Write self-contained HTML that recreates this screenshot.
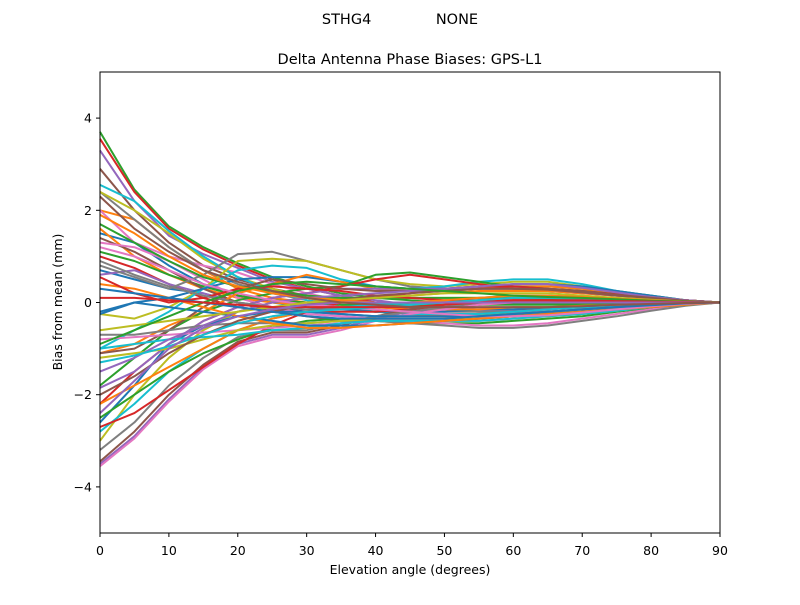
<!DOCTYPE html>
<html><head><meta charset="utf-8"><style>
body{margin:0;background:#fff;}
svg text{font-family:"DejaVu Sans","Liberation Sans",sans-serif;white-space:pre;}
</style></head><body>
<svg id="chart" width="800" height="600" xmlns="http://www.w3.org/2000/svg">
<rect width="800" height="600" fill="#fff"/>
<text x="400" y="24" text-anchor="middle" font-size="14.5" xml:space="preserve">STHG4              NONE</text>
<text x="410" y="64" text-anchor="middle" font-size="14.5">Delta Antenna Phase Biases: GPS-L1</text>
<g id="lines"></g>
<rect x="100" y="72" width="620" height="461" fill="none" stroke="#000" stroke-width="1"/>
<g id="axes"></g>
<text x="410" y="574" text-anchor="middle" font-size="12.5">Elevation angle (degrees)</text>
<text transform="translate(62,302) rotate(-90)" text-anchor="middle" font-size="12.5">Bias from mean (mm)</text>
</svg>
<script>
const elevations=[0,5,10,15,20,25,30,35,40,45,50,55,60,65,70,75,80,85,90];
const xTicks=[0,10,20,30,40,50,60,70,80,90];
const yTicks=[-4,-2,0,2,4];
const colors=['#1f77b4','#ff7f0e','#2ca02c','#d62728','#9467bd','#8c564b','#e377c2','#7f7f7f','#bcbd22','#17becf'];
const s00=[0.7,0.5,0.3,0.2,0.0,-0.1,-0.2,-0.25,-0.3,-0.3,-0.3,-0.3,-0.25,-0.2,-0.15,-0.1,-0.06,-0.03,0];
const s01=[2.0,1.8,1.2,0.7,0.3,0.1,0.0,-0.1,-0.2,-0.25,-0.3,-0.3,-0.3,-0.25,-0.2,-0.15,-0.1,-0.05,0];
const s02=[3.7,2.45,1.65,1.2,0.85,0.55,0.35,0.2,0.1,0.05,0.0,-0.05,-0.05,-0.05,-0.05,-0.03,-0.02,-0.01,0];
const s03=[3.55,2.4,1.6,1.15,0.8,0.5,0.3,0.15,0.0,-0.1,-0.15,-0.2,-0.2,-0.2,-0.15,-0.1,-0.06,-0.03,0];
const s04=[3.3,2.2,1.45,1.05,0.75,0.45,0.3,0.15,0.05,-0.05,-0.1,-0.15,-0.15,-0.15,-0.1,-0.08,-0.05,-0.02,0];
const s05=[2.9,2.0,1.3,0.8,0.5,0.3,0.15,0.05,-0.05,-0.1,-0.15,-0.15,-0.15,-0.12,-0.1,-0.07,-0.05,-0.02,0];
const s06=[2.0,1.3,1.0,0.8,0.65,0.4,0.2,0.05,-0.05,-0.1,-0.15,-0.2,-0.2,-0.2,-0.15,-0.1,-0.06,-0.03,0];
const s07=[2.4,1.8,1.2,0.7,0.4,0.2,0.05,-0.05,-0.1,-0.15,-0.2,-0.2,-0.2,-0.15,-0.1,-0.08,-0.05,-0.02,0];
const s08=[2.4,2.0,1.5,0.95,0.55,0.3,0.1,-0.05,-0.15,-0.2,-0.25,-0.25,-0.25,-0.2,-0.15,-0.1,-0.06,-0.03,0];
const s09=[2.55,2.2,1.55,1.0,0.55,0.25,0.05,-0.1,-0.2,-0.25,-0.25,-0.25,-0.2,-0.15,-0.1,-0.07,-0.04,-0.02,0];
const s10=[1.5,1.3,0.8,0.4,0.15,0.0,-0.1,-0.15,-0.2,-0.2,-0.2,-0.15,-0.15,-0.1,-0.08,-0.05,-0.03,-0.01,0];
const s11=[1.6,1.0,0.6,0.3,0.1,0.0,-0.05,-0.1,-0.1,-0.15,-0.15,-0.15,-0.1,-0.1,-0.07,-0.05,-0.03,-0.01,0];
const s12=[1.1,0.9,0.6,0.35,0.15,0.05,0.0,-0.05,-0.05,-0.05,-0.05,-0.05,-0.03,-0.02,-0.02,-0.01,0,0,0];
const s13=[1.0,0.75,0.4,0.1,-0.1,-0.2,-0.2,-0.2,-0.2,-0.15,-0.1,-0.05,0.0,0.0,0.0,0.0,0.0,0.0,0];
const s14=[0.6,0.7,0.4,0.2,0.0,-0.15,-0.25,-0.3,-0.35,-0.35,-0.35,-0.3,-0.3,-0.25,-0.2,-0.15,-0.1,-0.05,0];
const s15=[1.4,1.1,0.7,0.3,0.0,-0.2,-0.3,-0.4,-0.4,-0.4,-0.4,-0.35,-0.3,-0.25,-0.2,-0.15,-0.1,-0.05,0];
const s16=[1.3,1.2,0.9,0.5,0.1,-0.1,-0.25,-0.3,-0.35,-0.4,-0.4,-0.4,-0.35,-0.3,-0.25,-0.17,-0.1,-0.05,0];
const s17=[0.8,0.55,0.3,0.6,1.05,1.1,0.9,0.7,0.5,0.35,0.3,0.3,0.35,0.35,0.3,0.2,0.1,0.05,0];
const s18=[-0.25,-0.35,-0.1,0.3,0.9,0.95,0.9,0.7,0.5,0.4,0.35,0.4,0.45,0.45,0.35,0.25,0.15,0.05,0];
const s19=[-1.0,-0.6,-0.2,0.3,0.7,0.8,0.75,0.5,0.35,0.3,0.35,0.45,0.5,0.5,0.4,0.25,0.15,0.05,0];
const s20=[-0.25,0.0,0.1,0.3,0.5,0.55,0.55,0.45,0.35,0.3,0.3,0.35,0.4,0.4,0.35,0.25,0.15,0.05,0];
const s21=[-1.1,-0.9,-0.5,-0.2,0.2,0.4,0.6,0.45,0.3,0.25,0.25,0.3,0.35,0.35,0.3,0.2,0.12,0.05,0];
const s22=[-1.8,-1.2,-0.6,-0.2,0.05,0.2,0.3,0.35,0.6,0.65,0.55,0.45,0.35,0.3,0.25,0.18,0.1,0.05,0];
const s23=[-2.2,-1.5,-0.9,-0.4,-0.1,0.1,0.2,0.35,0.5,0.6,0.5,0.4,0.3,0.25,0.2,0.15,0.1,0.05,0];
const s24=[-3.5,-2.9,-2.1,-1.4,-0.9,-0.7,-0.7,-0.55,-0.35,-0.2,-0.1,0.0,0.05,0.05,0.05,0.03,0.02,0.01,0];
const s25=[-3.45,-2.8,-2.0,-1.35,-0.85,-0.65,-0.65,-0.5,-0.3,-0.15,-0.05,0.05,0.1,0.1,0.08,0.05,0.03,0.01,0];
const s26=[-3.55,-2.95,-2.15,-1.45,-0.95,-0.75,-0.75,-0.6,-0.4,-0.25,-0.15,-0.05,0.0,0.0,0.0,0.0,0.0,0.0,0];
const s27=[-3.2,-2.6,-1.8,-1.2,-0.75,-0.6,-0.6,-0.45,-0.3,-0.2,-0.1,0.0,0.05,0.05,0.05,0.03,0.02,0.01,0];
const s28=[-3.0,-2.0,-1.2,-0.6,-0.2,0.0,0.1,0.1,0.1,0.1,0.1,0.1,0.1,0.1,0.08,0.05,0.03,0.01,0];
const s29=[-2.8,-2.2,-1.5,-1.0,-0.6,-0.35,-0.2,-0.1,-0.05,0.0,0.05,0.1,0.15,0.15,0.12,0.08,0.05,0.02,0];
const s30=[-2.6,-1.8,-0.9,-0.5,-0.3,-0.2,-0.2,-0.25,-0.3,-0.3,-0.3,-0.3,-0.25,-0.2,-0.15,-0.1,-0.06,-0.03,0];
const s31=[-2.2,-1.8,-1.4,-1.0,-0.6,-0.35,-0.2,0.0,0.1,0.15,0.2,0.25,0.25,0.25,0.2,0.15,0.1,0.05,0];
const s32=[-2.5,-2.0,-1.5,-1.1,-0.8,-0.55,-0.4,-0.35,-0.4,-0.45,-0.45,-0.45,-0.4,-0.35,-0.3,-0.2,-0.12,-0.05,0];
const s33=[-2.7,-2.4,-1.9,-1.4,-0.9,-0.5,-0.2,0.0,0.1,0.2,0.3,0.35,0.35,0.3,0.25,0.18,0.1,0.05,0];
const s34=[-1.85,-1.5,-0.9,-0.4,-0.1,0.1,0.2,0.3,0.3,0.3,0.3,0.3,0.3,0.28,0.22,0.15,0.1,0.05,0];
const s35=[-1.1,-1.0,-0.6,-0.1,0.3,0.5,0.4,0.3,0.25,0.25,0.25,0.3,0.3,0.28,0.22,0.15,0.1,0.05,0];
const s36=[-0.8,-0.75,-0.7,-0.65,-0.6,-0.55,-0.5,-0.45,-0.4,-0.4,-0.45,-0.5,-0.5,-0.45,-0.35,-0.25,-0.15,-0.05,0];
const s37=[-0.7,-0.7,-0.6,-0.5,-0.45,-0.45,-0.45,-0.4,-0.4,-0.45,-0.5,-0.55,-0.55,-0.5,-0.4,-0.3,-0.18,-0.07,0];
const s38=[-1.2,-1.1,-1.0,-0.8,-0.6,-0.5,-0.45,-0.4,-0.35,-0.35,-0.35,-0.35,-0.3,-0.3,-0.25,-0.18,-0.1,-0.05,0];
const s39=[-1.0,-0.9,-0.8,-0.75,-0.7,-0.6,-0.55,-0.45,-0.4,-0.4,-0.4,-0.4,-0.35,-0.3,-0.25,-0.18,-0.1,-0.05,0];
const s40=[-0.2,0.0,-0.1,-0.2,-0.3,-0.4,-0.5,-0.5,-0.5,-0.45,-0.4,-0.35,-0.3,-0.25,-0.2,-0.15,-0.1,-0.05,0];
const s41=[0.4,0.3,0.1,-0.1,-0.3,-0.45,-0.55,-0.55,-0.5,-0.45,-0.4,-0.35,-0.3,-0.25,-0.2,-0.15,-0.1,-0.05,0];
const s42=[1.7,1.3,0.9,0.55,0.35,0.25,0.15,0.1,0.1,0.1,0.1,0.1,0.1,0.08,0.06,0.04,0.02,0.01,0];
const s43=[0.55,0.2,0.0,0.1,0.3,0.35,0.3,0.25,0.15,0.1,0.05,0.05,0.05,0.05,0.03,0.02,0.01,0,0];
const s44=[-1.5,-1.2,-0.8,-0.5,-0.2,0.0,0.1,0.15,0.2,0.25,0.3,0.35,0.4,0.4,0.32,0.22,0.12,0.05,0];
const s45=[-2.0,-1.6,-1.1,-0.7,-0.4,-0.2,-0.05,0.05,0.15,0.2,0.25,0.3,0.3,0.3,0.25,0.17,0.1,0.04,0];
const s46=[1.2,1.0,0.7,0.4,0.2,0.05,-0.05,-0.1,-0.15,-0.2,-0.25,-0.3,-0.3,-0.28,-0.22,-0.15,-0.08,-0.03,0];
const s47=[0.9,0.6,0.35,0.15,0.0,-0.1,-0.15,-0.15,-0.1,-0.05,0.0,0.05,0.1,0.1,0.08,0.05,0.03,0.01,0];
const s48=[-0.6,-0.5,-0.4,-0.3,-0.2,-0.1,0.0,0.05,0.1,0.15,0.2,0.2,0.2,0.2,0.15,0.1,0.06,0.02,0];
const s49=[-1.3,-1.15,-0.95,-0.7,-0.45,-0.3,-0.2,-0.15,-0.1,-0.05,0.0,0.05,0.1,0.1,0.08,0.05,0.03,0.01,0];
const s50=[0.3,0.2,0.1,0.0,-0.1,-0.2,-0.3,-0.35,-0.35,-0.35,-0.35,-0.3,-0.25,-0.2,-0.15,-0.1,-0.06,-0.02,0];
const s51=[1.9,1.5,1.0,0.6,0.35,0.2,0.1,0.05,0.0,0.0,0.05,0.1,0.15,0.15,0.12,0.08,0.05,0.02,0];
const s52=[-0.9,-0.6,-0.3,0.0,0.25,0.4,0.45,0.4,0.35,0.3,0.25,0.2,0.15,0.12,0.1,0.07,0.04,0.02,0];
const s53=[0.1,0.1,0.05,0.0,-0.05,-0.1,-0.1,-0.1,-0.1,-0.1,-0.05,0.0,0.05,0.05,0.05,0.03,0.02,0.01,0];
const s54=[-2.4,-1.7,-1.0,-0.55,-0.3,-0.15,-0.05,0.0,0.0,0.0,0.0,0.0,0.0,0.0,0.0,0.0,0.0,0.0,0];
const s55=[2.3,1.6,1.1,0.7,0.45,0.25,0.1,0.0,-0.05,-0.1,-0.1,-0.1,-0.1,-0.1,-0.08,-0.05,-0.03,-0.01,0];
const series=[s00,s01,s02,s03,s04,s05,s06,s07,s08,s09,s10,s11,s12,s13,s14,s15,s16,s17,s18,s19,s20,s21,s22,s23,s24,s25,s26,s27,s28,s29,s30,s31,s32,s33,s34,s35,s36,s37,s38,s39,s40,s41,s42,s43,s44,s45,s46,s47,s48,s49,s50,s51,s52,s53,s54,s55];
const NS='http://www.w3.org/2000/svg';
const X0=100,X1=720,Y0=533,Y1=72,xmin=0,xmax=90,ymin=-5,ymax=5;
function xs(v){return X0+(v-xmin)/(xmax-xmin)*(X1-X0);}
function ys(v){return Y0-(v-ymin)/(ymax-ymin)*(Y0-Y1);}
const g=document.getElementById('lines');
series.forEach((s,i)=>{
  const p=document.createElementNS(NS,'polyline');
  p.setAttribute('points',s.map((v,j)=>xs(elevations[j]).toFixed(1)+','+ys(v).toFixed(1)).join(' '));
  p.setAttribute('fill','none');
  p.setAttribute('stroke',colors[i%10]);
  p.setAttribute('stroke-width','2');
  p.setAttribute('stroke-linejoin','round');
  
  
  g.appendChild(p);
});
const ax=document.getElementById('axes');
xTicks.forEach(t=>{
  const l=document.createElementNS(NS,'line');
  l.setAttribute('x1',xs(t));l.setAttribute('x2',xs(t));l.setAttribute('y1',533);l.setAttribute('y2',537);l.setAttribute('stroke','#000');
  
  
  ax.appendChild(l);
  const tx=document.createElementNS(NS,'text');
  tx.setAttribute('x',xs(t));tx.setAttribute('y',555);tx.setAttribute('text-anchor','middle');tx.setAttribute('font-size','12.5');
  tx.textContent=t;
  
  
  ax.appendChild(tx);
});
yTicks.forEach(t=>{
  const l=document.createElementNS(NS,'line');
  l.setAttribute('x1',96);l.setAttribute('x2',100);l.setAttribute('y1',ys(t));l.setAttribute('y2',ys(t));l.setAttribute('stroke','#000');
  
  
  ax.appendChild(l);
  const tx=document.createElementNS(NS,'text');
  tx.setAttribute('x',92);tx.setAttribute('y',ys(t)+4.5);tx.setAttribute('text-anchor','end');tx.setAttribute('font-size','12.5');
  tx.textContent=t<0?'\u2212'+Math.abs(t):String(t);
  
  
  ax.appendChild(tx);
});
</script>
</body></html>
